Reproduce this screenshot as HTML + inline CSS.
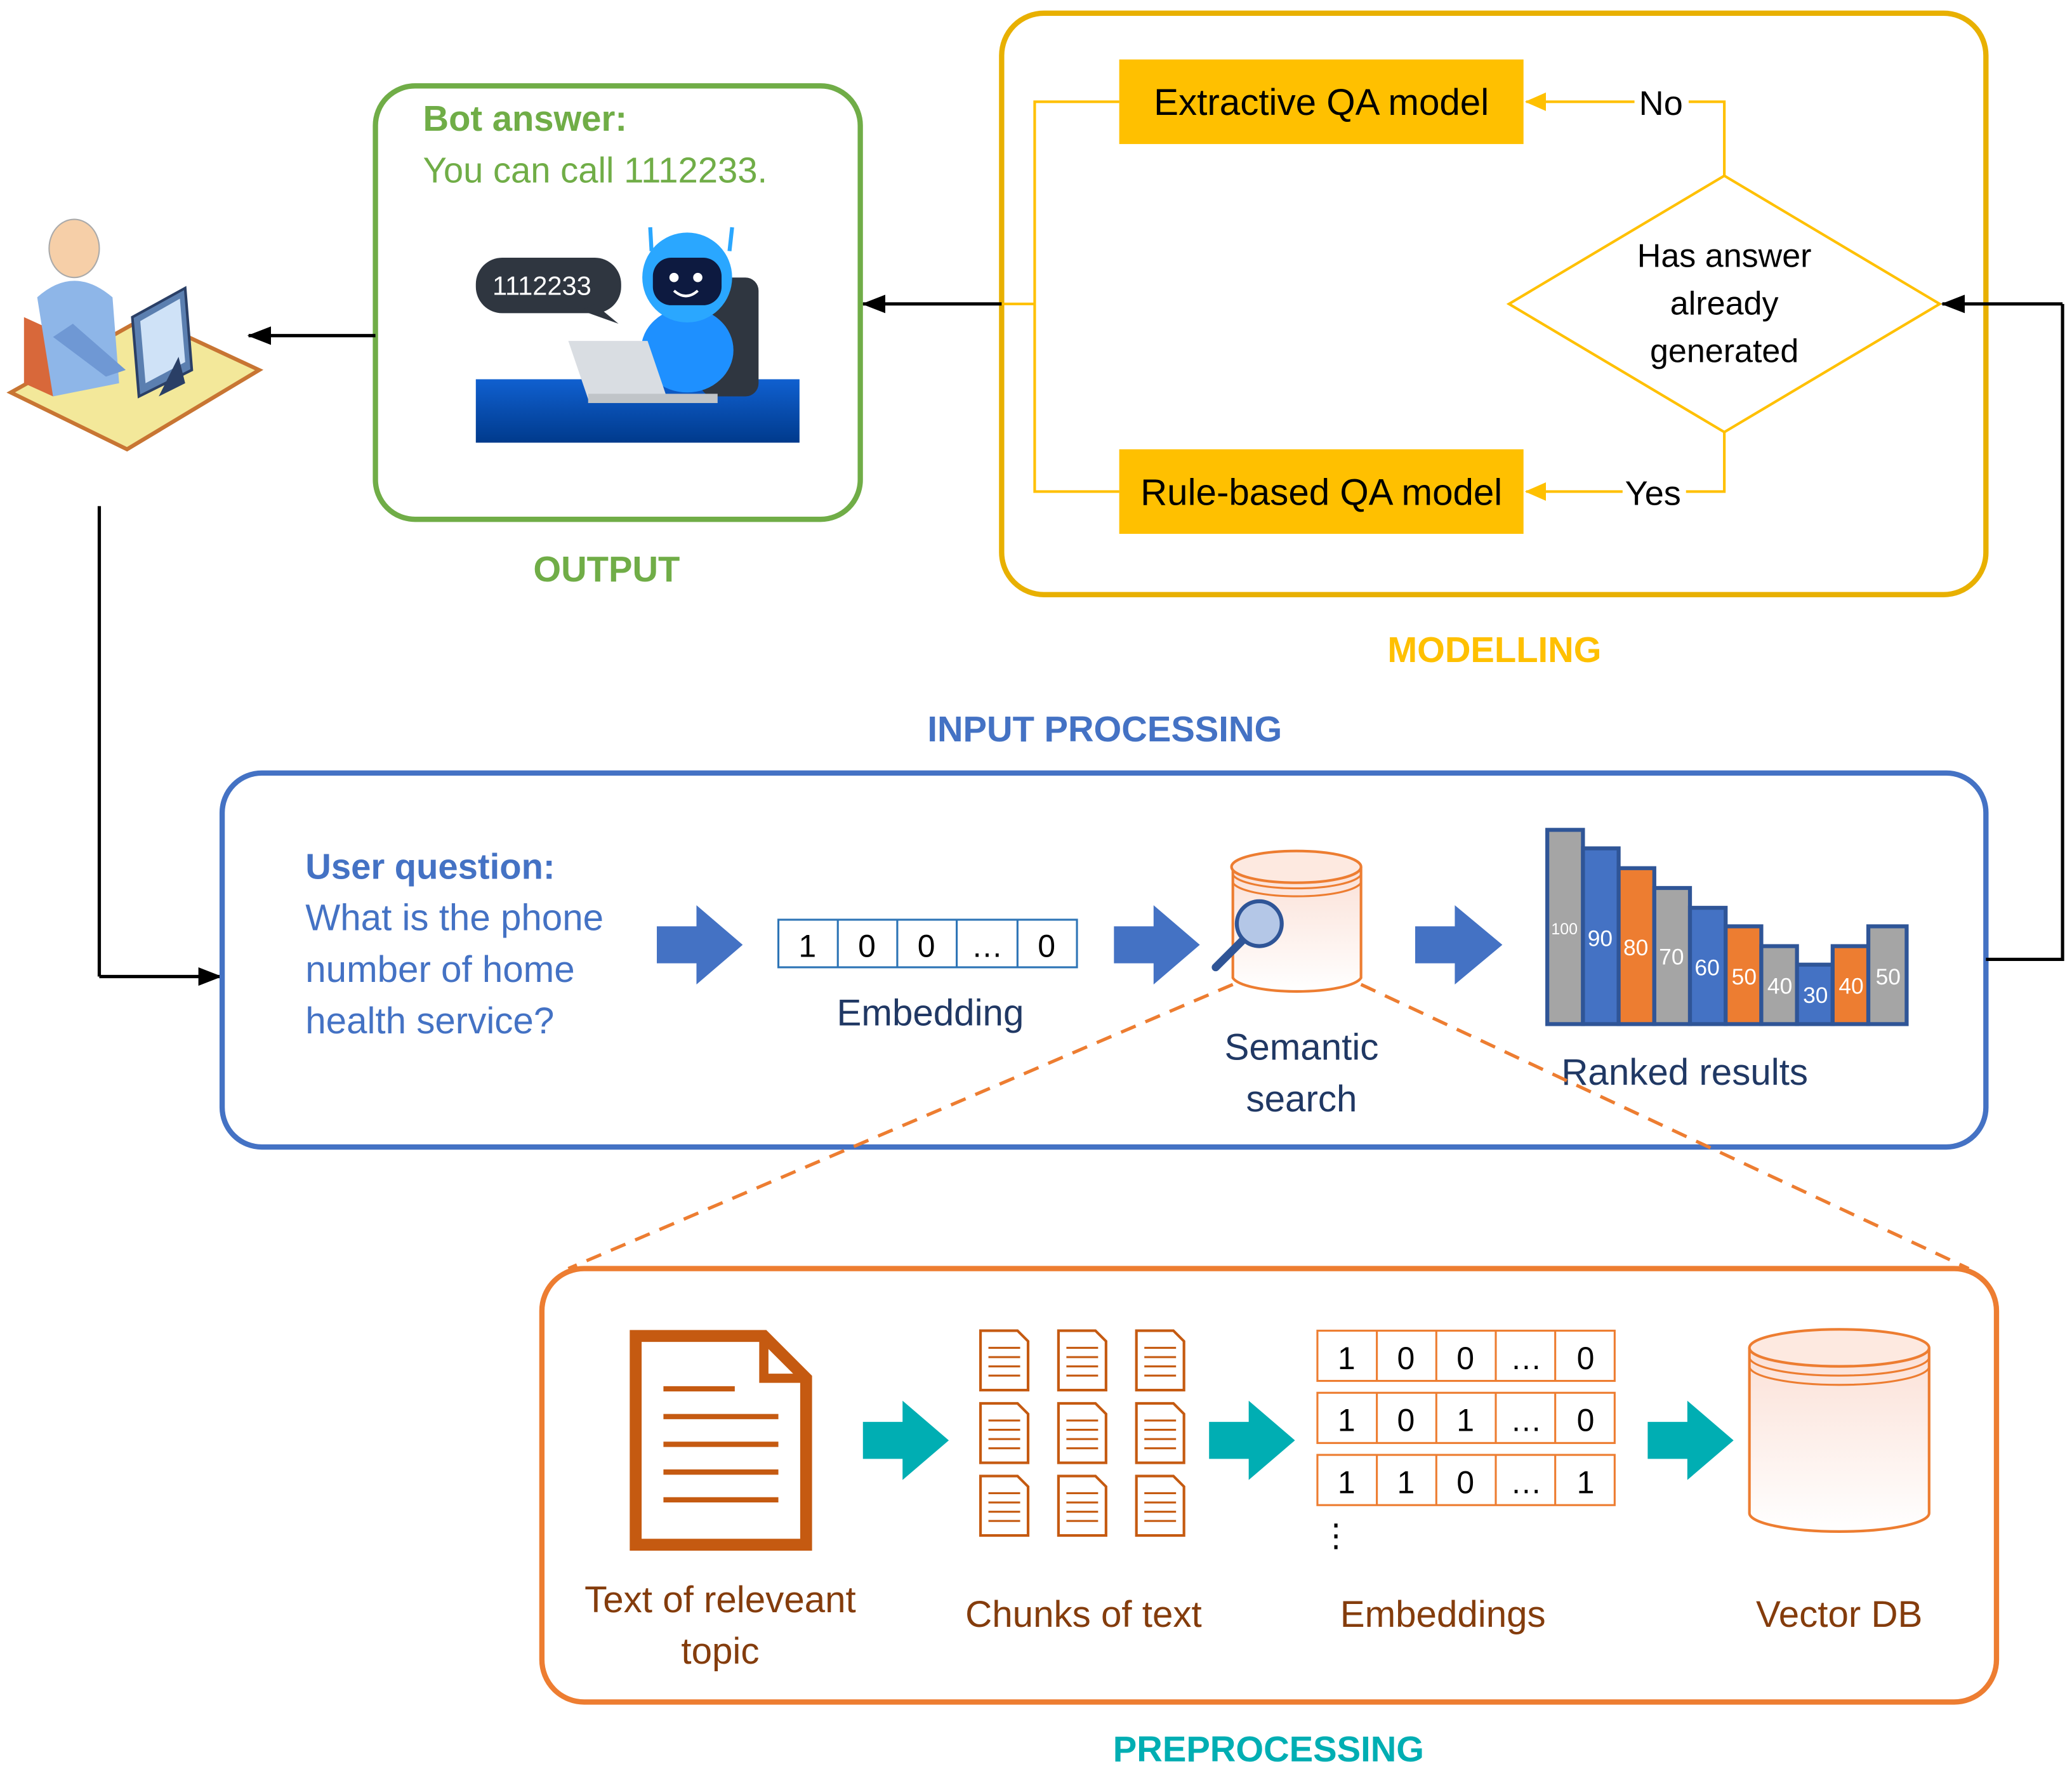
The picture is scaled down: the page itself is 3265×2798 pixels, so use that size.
<!DOCTYPE html>
<html><head><meta charset="utf-8"><style>html,body{margin:0;padding:0;background:#fff}svg{display:block}text{font-family:"Liberation Sans","DejaVu Sans",sans-serif}</style></head>
<body>
<svg width="3265" height="2798" viewBox="0 0 1568 1344" xmlns="http://www.w3.org/2000/svg">
<defs>
<marker id="ab" markerWidth="18" markerHeight="14" refX="17" refY="7" orient="auto" markerUnits="userSpaceOnUse"><path d="M0,0 L18,7 L0,14 z" fill="#000"/></marker>
<marker id="ay" markerWidth="16" markerHeight="14" refX="15" refY="7" orient="auto" markerUnits="userSpaceOnUse"><path d="M0,0 L16,7 L0,14 z" fill="#FFC000"/></marker>
<linearGradient id="cyl" x1="0" y1="0" x2="0" y2="1"><stop offset="0" stop-color="#fbe0d6"/><stop offset="1" stop-color="#fff"/></linearGradient>
<linearGradient id="bar" x1="0" y1="0" x2="0" y2="1"><stop offset="0" stop-color="#1060d0"/><stop offset="1" stop-color="#003a8c"/></linearGradient>
</defs>

<rect x="758" y="10" width="745" height="440" rx="32" fill="none" stroke="#E8B000" stroke-width="4"/>
<rect x="847" y="45" width="306" height="64" fill="#FFC000"/>
<text x="1000" y="87" font-size="28" text-anchor="middle" fill="#000">Extractive QA model</text>
<rect x="847" y="340" width="306" height="64" fill="#FFC000"/>
<text x="1000" y="382" font-size="28" text-anchor="middle" fill="#000">Rule-based QA model</text>
<polygon points="1305,133 1468,230 1305,327 1142,230" fill="#fff" stroke="#FFC000" stroke-width="2"/>
<text x="1305" y="202" font-size="25" text-anchor="middle">Has answer</text>
<text x="1305" y="238" font-size="25" text-anchor="middle">already</text>
<text x="1305" y="274" font-size="25" text-anchor="middle">generated</text>
<polyline points="1305,133 1305,77 1278,77" fill="none" stroke="#FFC000" stroke-width="2"/>
<line x1="1237" y1="77" x2="1155" y2="77" stroke="#FFC000" stroke-width="2" marker-end="url(#ay)"/>
<text x="1257" y="87" font-size="26" text-anchor="middle">No</text>
<polyline points="1305,327 1305,372 1276,372" fill="none" stroke="#FFC000" stroke-width="2"/>
<line x1="1228" y1="372" x2="1155" y2="372" stroke="#FFC000" stroke-width="2" marker-end="url(#ay)"/>
<text x="1251" y="382" font-size="26" text-anchor="middle">Yes</text>
<polyline points="847,77 783,77 783,372 847,372" fill="none" stroke="#FFC000" stroke-width="2"/>
<line x1="758" y1="230" x2="783" y2="230" stroke="#FFC000" stroke-width="2"/>
<text x="1131" y="501" font-size="27" font-weight="bold" text-anchor="middle" fill="#FFC000">MODELLING</text>
<line x1="758" y1="230" x2="653" y2="230" stroke="#000" stroke-width="2.5" marker-end="url(#ab)"/>

<rect x="284" y="65" width="367" height="328" rx="30" fill="none" stroke="#70AD47" stroke-width="4"/>
<text x="320" y="99" font-size="27" font-weight="bold" fill="#70AD47">Bot answer:</text>
<text x="320" y="138" font-size="27" fill="#70AD47">You can call 1112233.</text>
<rect x="360" y="287" width="245" height="48" fill="url(#bar)"/>
<rect x="360" y="195" width="110" height="42" rx="20" fill="#2f3640"/>
<polygon points="450,230 468,245 440,235" fill="#2f3640"/>
<text x="410" y="223" font-size="20" text-anchor="middle" fill="#fff">1112233</text>
<rect x="530" y="210" width="44" height="90" rx="10" fill="#2f3640"/>
<ellipse cx="520" cy="265" rx="35" ry="32" fill="#1e90ff"/>
<circle cx="520" cy="210" r="34" fill="#2aa7ff"/>
<rect x="494" y="195" width="52" height="36" rx="14" fill="#0d1a40"/>
<circle cx="510" cy="210" r="3.5" fill="#fff"/><circle cx="528" cy="210" r="3.5" fill="#fff"/>
<path d="M510,220 Q519,228 528,220" stroke="#fff" stroke-width="2" fill="none"/>
<line x1="493" y1="190" x2="492" y2="172" stroke="#2aa7ff" stroke-width="3"/><line x1="552" y1="190" x2="554" y2="172" stroke="#2aa7ff" stroke-width="3"/>
<polygon points="430,258 490,258 505,302 445,302" fill="#d9dde2"/>
<rect x="445" y="298" width="98" height="7" fill="#c0c4c8"/>
<text x="459" y="440" font-size="27" font-weight="bold" text-anchor="middle" fill="#70AD47">OUTPUT</text>
<line x1="284" y1="254" x2="188" y2="254" stroke="#000" stroke-width="2.5" marker-end="url(#ab)"/>

<polygon points="8,297 110,240 196,280 96,340" fill="#f3e89a" stroke="#c87533" stroke-width="3"/>
<polygon points="18,240 18,290 40,300 40,250" fill="#d8683a"/>
<ellipse cx="56" cy="188" rx="19" ry="22" fill="#f6cfa8" stroke="#aaa"/>
<path d="M28,225 Q56,200 85,225 L90,290 L40,300 Z" fill="#8eb6e8"/>
<path d="M40,255 L80,285 L95,280 L55,245 Z" fill="#6f98d4"/>
<polygon points="100,240 140,218 145,280 105,300" fill="#5b7fb0" stroke="#2a3f66" stroke-width="2"/>
<polygon points="106,243 136,226 140,274 110,290" fill="#cfe2f7"/>
<path d="M120,300 L140,290 L135,270 Z" fill="#2a3f66"/>

<line x1="75" y1="383" x2="75" y2="739" stroke="#000" stroke-width="2.5"/>
<line x1="75" y1="739" x2="167" y2="739" stroke="#000" stroke-width="2.5" marker-end="url(#ab)"/>

<text x="836" y="561" font-size="27" font-weight="bold" text-anchor="middle" fill="#4472C4">INPUT PROCESSING</text>
<rect x="168" y="585" width="1335" height="283" rx="30" fill="none" stroke="#4472C4" stroke-width="4"/>
<text x="231" y="665" font-size="27" font-weight="bold" fill="#4472C4">User question:</text>
<text x="231" y="704" font-size="28" fill="#4472C4">What is the phone</text>
<text x="231" y="743" font-size="28" fill="#4472C4">number of home</text>
<text x="231" y="782" font-size="28" fill="#4472C4">health service?</text>
<g fill="#4472C4">
<polygon points="497,701 527,701 527,685 562,715 527,745 527,729 497,729"/>
<polygon points="843,701 873,701 873,685 908,715 873,745 873,729 843,729"/>
<polygon points="1071,701 1101,701 1101,685 1137,715 1101,745 1101,729 1071,729"/>
</g>
<g stroke="#2E75B6" stroke-width="1.5" fill="#fff">
<rect x="589" y="696" width="226" height="36"/>
<line x1="634" y1="696" x2="634" y2="732"/><line x1="679" y1="696" x2="679" y2="732"/><line x1="724" y1="696" x2="724" y2="732"/><line x1="770" y1="696" x2="770" y2="732"/>
</g>
<g font-size="24" text-anchor="middle"><text x="611" y="724">1</text><text x="656" y="724">0</text><text x="701" y="724">0</text><text x="747" y="724">…</text><text x="792" y="724">0</text></g>
<text x="704" y="776" font-size="28" text-anchor="middle" fill="#203864">Embedding</text>
<path d="M933,656 L933,740 A49,12 0 0 0 1030,740 L1030,656" fill="url(#cyl)" stroke="#ED7D31" stroke-width="2"/>
<ellipse cx="981" cy="656" rx="49" ry="12" fill="#fde9e0" stroke="#ED7D31" stroke-width="2"/>
<path d="M933,662 A49,12 0 0 0 1030,662 M933,668 A49,12 0 0 0 1030,668" fill="none" stroke="#ED7D31" stroke-width="1.5"/>
<line x1="940" y1="712" x2="920" y2="732" stroke="#2f5597" stroke-width="6" stroke-linecap="round"/>
<circle cx="953" cy="699" r="17" fill="#b4c7e7" stroke="#2f5597" stroke-width="3"/>
<text x="985" y="802" font-size="28" text-anchor="middle" fill="#203864">Semantic</text>
<text x="985" y="841" font-size="28" text-anchor="middle" fill="#203864">search</text>
<g stroke="#2f5597" stroke-width="3">
<rect x="1171" y="628" width="27" height="147" fill="#a5a5a5"/>
<rect x="1198" y="642" width="27" height="133" fill="#4472C4"/>
<rect x="1225" y="657" width="27" height="118" fill="#ED7D31"/>
<rect x="1252" y="672" width="27" height="103" fill="#a5a5a5"/>
<rect x="1279" y="687" width="27" height="88" fill="#4472C4"/>
<rect x="1306" y="701" width="27" height="74" fill="#ED7D31"/>
<rect x="1333" y="716" width="27" height="59" fill="#a5a5a5"/>
<rect x="1360" y="730" width="27" height="45" fill="#4472C4"/>
<rect x="1387" y="716" width="27" height="59" fill="#ED7D31"/>
<rect x="1414" y="701" width="29" height="74" fill="#a5a5a5"/>
</g>
<g fill="#fff" font-size="17" text-anchor="middle">
<text x="1184" y="707" font-size="12">100</text><text x="1211" y="716">90</text><text x="1238" y="723">80</text><text x="1265" y="730">70</text><text x="1292" y="738">60</text><text x="1320" y="745">50</text><text x="1347" y="752">40</text><text x="1374" y="759">30</text><text x="1401" y="752">40</text><text x="1429" y="745">50</text>
</g>
<text x="1275" y="821" font-size="28" text-anchor="middle" fill="#203864">Ranked results</text>
<polyline points="1503,726 1561,726 1561,230" fill="none" stroke="#000" stroke-width="2.5"/>
<line x1="1561" y1="230" x2="1470" y2="230" stroke="#000" stroke-width="2.5" marker-end="url(#ab)"/>

<line x1="933" y1="745" x2="430" y2="960" stroke="#ED7D31" stroke-width="2.5" stroke-dasharray="12,8"/>
<line x1="1030" y1="745" x2="1490" y2="960" stroke="#ED7D31" stroke-width="2.5" stroke-dasharray="12,8"/>

<rect x="410" y="960" width="1101" height="328" rx="32" fill="#fff" stroke="#ED7D31" stroke-width="4"/>
<path d="M481,1011 L578,1011 L610,1043 L610,1169 L481,1169 Z" fill="#fff" stroke="#C55A11" stroke-width="9"/>
<path d="M578,1011 L578,1043 L610,1043" fill="none" stroke="#C55A11" stroke-width="7"/>
<g stroke="#C55A11" stroke-width="4"><line x1="502" y1="1051" x2="556" y2="1051"/><line x1="502" y1="1072" x2="589" y2="1072"/><line x1="502" y1="1093" x2="589" y2="1093"/><line x1="502" y1="1114" x2="589" y2="1114"/><line x1="502" y1="1135" x2="589" y2="1135"/></g>
<g fill="#00AEB3">
<polygon points="653,1076 683,1076 683,1060 718,1090 683,1120 683,1104 653,1104"/>
<polygon points="915,1076 945,1076 945,1060 980,1090 945,1120 945,1104 915,1104"/>
<polygon points="1247,1076 1277,1076 1277,1060 1312,1090 1277,1120 1277,1104 1247,1104"/>
</g>
<g id="sd" fill="#fff" stroke="#C55A11" stroke-width="2">
<path d="M742,1007 L770,1007 L778,1015 L778,1052 L742,1052 Z"/>
<path d="M748,1020 H772 M748,1027 H772 M748,1034 H772 M748,1041 H772" stroke-width="1.5"/>
</g>
<use href="#sd" x="59"/><use href="#sd" x="118"/>
<use href="#sd" y="55"/><use href="#sd" x="59" y="55"/><use href="#sd" x="118" y="55"/>
<use href="#sd" y="110"/><use href="#sd" x="59" y="110"/><use href="#sd" x="118" y="110"/>
<g id="er">
<g stroke="#ED7D31" stroke-width="1.5" fill="#fff">
<rect x="997" y="1007" width="225" height="38"/>
<line x1="1042" y1="1007" x2="1042" y2="1045"/><line x1="1087" y1="1007" x2="1087" y2="1045"/><line x1="1132" y1="1007" x2="1132" y2="1045"/><line x1="1177" y1="1007" x2="1177" y2="1045"/>
</g></g>
<use href="#er" y="47"/><use href="#er" y="94"/>
<g font-size="24" text-anchor="middle">
<text x="1019" y="1036">1</text><text x="1064" y="1036">0</text><text x="1109" y="1036">0</text><text x="1155" y="1036">…</text><text x="1200" y="1036">0</text>
<text x="1019" y="1083">1</text><text x="1064" y="1083">0</text><text x="1109" y="1083">1</text><text x="1155" y="1083">…</text><text x="1200" y="1083">0</text>
<text x="1019" y="1130">1</text><text x="1064" y="1130">1</text><text x="1109" y="1130">0</text><text x="1155" y="1130">…</text><text x="1200" y="1130">1</text>
<text x="1011" y="1170">⋮</text>
</g>
<path d="M1324,1020 L1324,1145 A68,14 0 0 0 1460,1145 L1460,1020" fill="url(#cyl)" stroke="#ED7D31" stroke-width="2"/>
<ellipse cx="1392" cy="1020" rx="68" ry="14" fill="#fde9e0" stroke="#ED7D31" stroke-width="2"/>
<path d="M1324,1027 A68,14 0 0 0 1460,1027 M1324,1034 A68,14 0 0 0 1460,1034" fill="none" stroke="#ED7D31" stroke-width="1.5"/>
<g font-size="28" text-anchor="middle" fill="#843C0C">
<text x="545" y="1220">Text of releveant</text><text x="545" y="1259">topic</text>
<text x="820" y="1231">Chunks of text</text><text x="1092" y="1231">Embeddings</text><text x="1392" y="1231">Vector DB</text>
</g>
<text x="960" y="1333" font-size="27" font-weight="bold" text-anchor="middle" fill="#00AEB3">PREPROCESSING</text>
</svg>
</body></html>
